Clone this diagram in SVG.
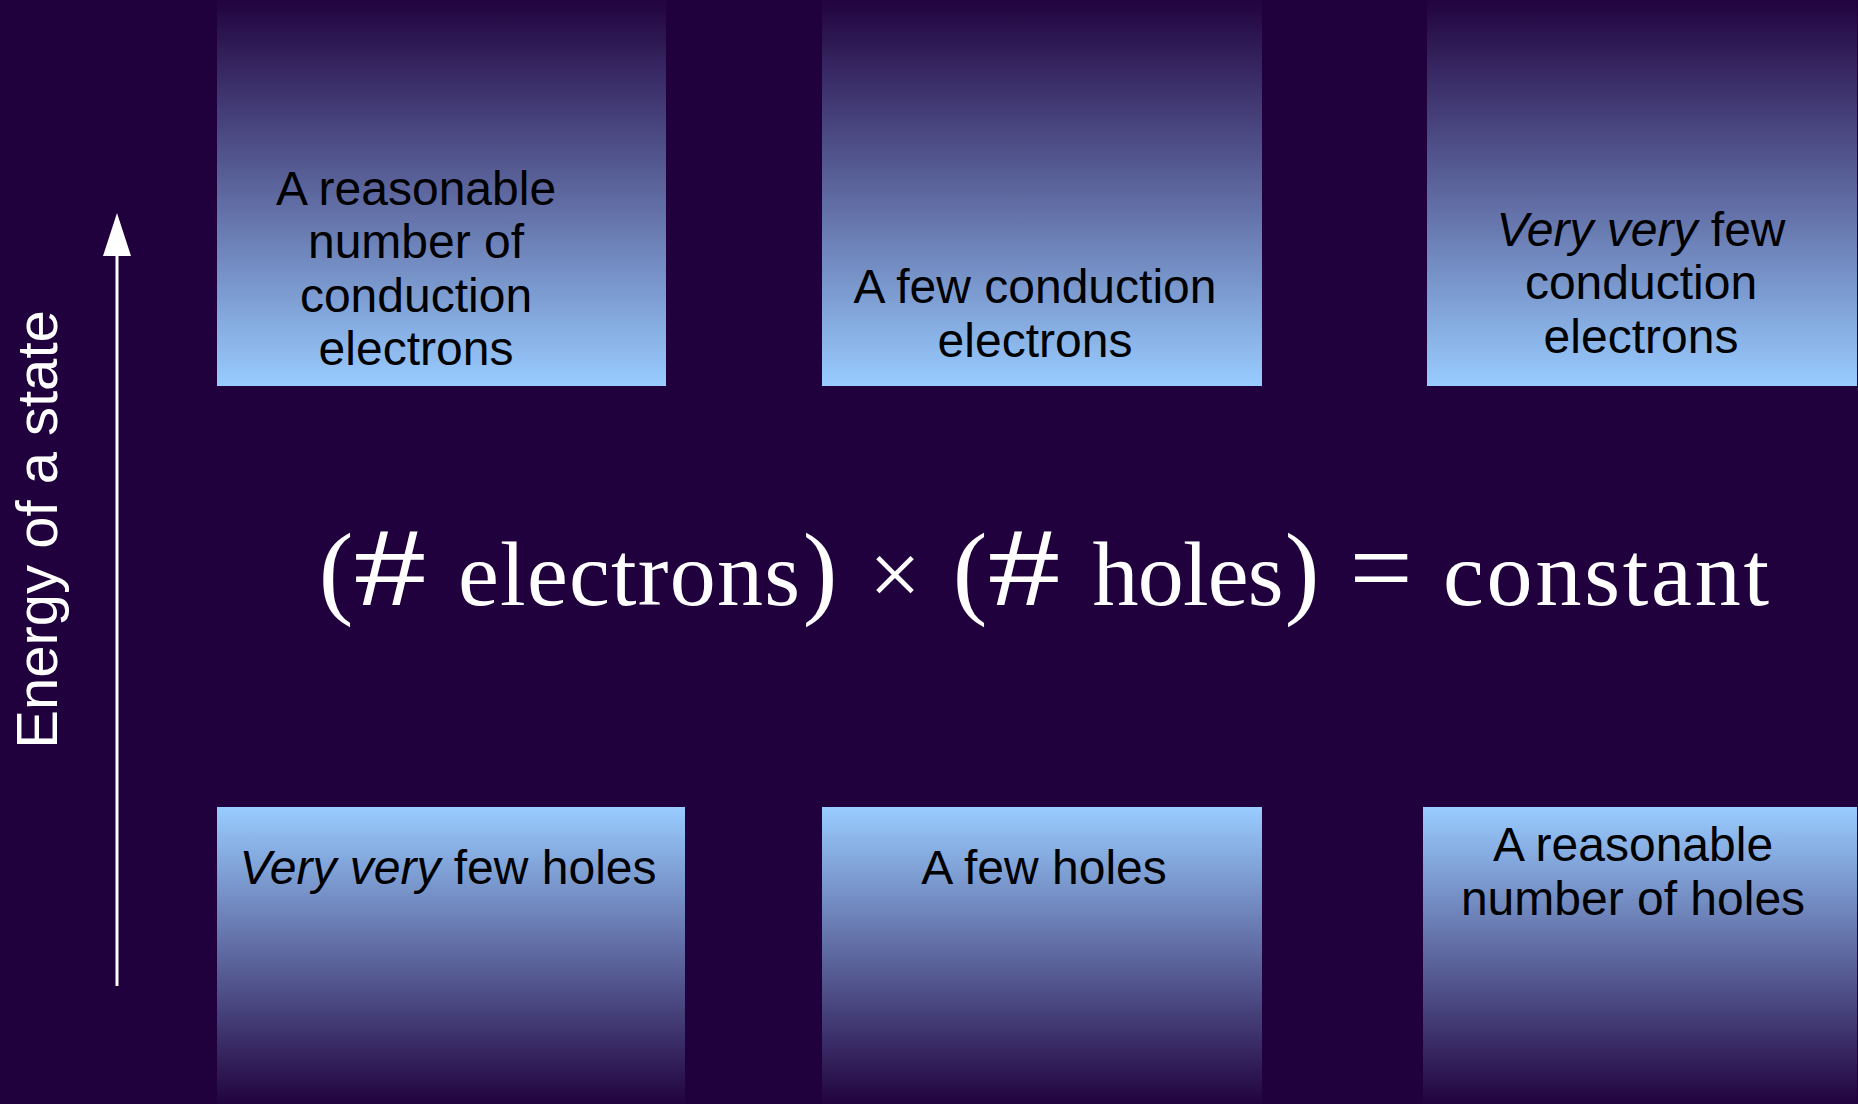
<svg xmlns="http://www.w3.org/2000/svg" width="1858" height="1104" viewBox="0 0 1858 1104">
<style>
.lbl{font-family:"Liberation Sans",Arial,sans-serif;font-size:48px;fill:#000;text-anchor:middle}
.it{font-style:italic}
.eq{font-family:"Liberation Serif","Times New Roman",serif;font-size:92px;fill:#fff;text-anchor:middle}
.par{font-size:104px}
.hash{font-size:112px}
.axis{font-family:"Liberation Sans",Arial,sans-serif;font-size:58px;fill:#fff;text-anchor:middle}
</style>
<defs>
<linearGradient id="gUp" x1="0" y1="0" x2="0" y2="1">
<stop offset="0" stop-color="#21033f"/>
<stop offset="1" stop-color="#99ccff"/>
</linearGradient>
<linearGradient id="gDown" x1="0" y1="0" x2="0" y2="1">
<stop offset="0" stop-color="#99ccff"/>
<stop offset="1" stop-color="#21033f"/>
</linearGradient>
</defs>
<rect x="0" y="0" width="1858" height="1104" fill="#20003d"/>

<g id="cb1">
<rect x="217" y="0" width="449" height="386" fill="url(#gUp)"/>
<text class="lbl" x="416" y="205">A reasonable</text>
<text class="lbl" x="416" y="258">number of</text>
<text class="lbl" x="416" y="312">conduction</text>
<text class="lbl" x="416" y="365">electrons</text>
</g>
<g id="cb2">
<rect x="822" y="0" width="440" height="386" fill="url(#gUp)"/>
<text class="lbl" x="1035" y="303">A few conduction</text>
<text class="lbl" x="1035" y="357">electrons</text>
</g>
<g id="cb3">
<rect x="1427" y="0" width="430" height="386" fill="url(#gUp)"/>
<text class="lbl" x="1641" y="246"><tspan class="it">Very very</tspan> few</text>
<text class="lbl" x="1641" y="299">conduction</text>
<text class="lbl" x="1641" y="353">electrons</text>
</g>

<g id="vb1">
<rect x="217" y="807" width="468" height="297" fill="url(#gDown)"/>
<text class="lbl" x="448" y="884"><tspan class="it">Very very</tspan> few holes</text>
</g>
<g id="vb2">
<rect x="822" y="807" width="440" height="297" fill="url(#gDown)"/>
<text class="lbl" x="1044" y="884">A few holes</text>
</g>
<g id="vb3">
<rect x="1423" y="807" width="434" height="297" fill="url(#gDown)"/>
<text class="lbl" x="1633" y="861">A reasonable</text>
<text class="lbl" x="1633" y="915">number of holes</text>
</g>

<g id="equation">
<text class="eq par" x="336" y="605">(</text>
<text class="eq hash" transform="translate(390,605) scale(1.3,1)" x="0" y="0">#</text>
<text class="eq" x="629" y="605" textLength="342" lengthAdjust="spacing">electrons</text>
<text class="eq par" x="820" y="605">)</text>
<text class="eq" x="895" y="605">×</text>
<text class="eq par" x="970" y="605">(</text>
<text class="eq hash" transform="translate(1024,605) scale(1.3,1)" x="0" y="0">#</text>
<text class="eq" x="1188" y="605" textLength="191" lengthAdjust="spacing">holes</text>
<text class="eq par" x="1302" y="605">)</text>
<text class="eq" x="1381" y="605" style="font-size:112px">=</text>
<text class="eq" x="1606" y="605" textLength="326" lengthAdjust="spacing">constant</text>
</g>

<g id="axis">
<text class="axis" transform="translate(57,529.5) rotate(-90)" x="0" y="0">Energy of a state</text>
</g>

<g id="connectors">
<line x1="117" y1="986" x2="117" y2="250" stroke="#fff" stroke-width="3"/>
<polygon points="117,213 103,256 131,256" fill="#fff"/>
</g>
</svg>
